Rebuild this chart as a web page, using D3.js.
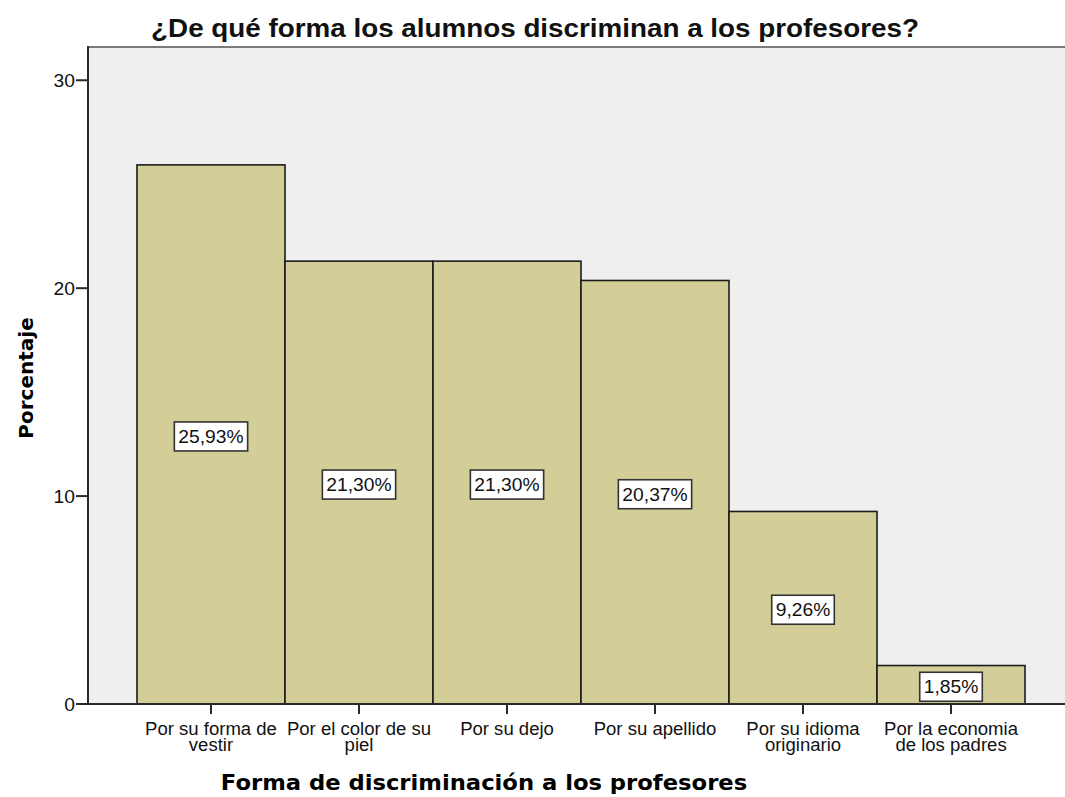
<!DOCTYPE html>
<html lang="es">
<head>
<meta charset="UTF-8">
<title>Forma de discriminación a los profesores</title>
<script src="https://d3js.org/d3.v7.min.js"></script>
<style>
  body { margin: 0; background: #fff; }
  svg { display: block; }
  .sans { font-family: "Liberation Sans", Arial, sans-serif; fill: #111; }
  .axis-title { font-family: "DejaVu Sans", Verdana, sans-serif; font-weight: bold; fill: #000; }
</style>
</head>
<body>
<svg width="1065" height="797"></svg>
<script>
// chart data
const categories = [
  ["Por su forma de", "vestir"],
  ["Por el color de su", "piel"],
  ["Por su dejo"],
  ["Por su apellido"],
  ["Por su idioma", "originario"],
  ["Por la economia", "de los padres"]
];
const percents = [25.93, 21.30, 21.30, 20.37, 9.26, 1.85];
const yTicks = [0, 10, 20, 30];

const title = "¿De qué forma los alumnos discriminan a los profesores?";
const xTitle = "Forma de discriminación a los profesores";
const yTitle = "Porcentaje";

const sx = 1.07; // the picture is slightly stretched sideways

const svg = d3.select("svg");
const plotL = 88, plotR = 1074, plotT = 47, plotB = 704;

const x = d3.scaleBand()
  .domain(d3.range(percents.length))
  .range([plotL, plotR])
  .paddingInner(0)
  .paddingOuter(0.331);

const y = d3.scaleLinear().domain([0, 31.6]).range([plotB, plotT]);

function fmt(v) { return v.toFixed(2).replace(".", ",") + "%"; }

// plot background
svg.append("rect")
  .attr("x", plotL).attr("y", plotT)
  .attr("width", plotR - plotL).attr("height", plotB - plotT)
  .attr("fill", "#efefef");

// top frame line
svg.append("line")
  .attr("x1", plotL).attr("x2", plotR)
  .attr("y1", plotT).attr("y2", plotT)
  .attr("stroke", "#7a7a7a").attr("stroke-width", 2);

// bars
svg.append("g").selectAll("rect")
  .data(percents)
  .enter().append("rect")
  .attr("x", (d, i) => x(i))
  .attr("y", d => y(d))
  .attr("width", x.bandwidth())
  .attr("height", d => y(0) - y(d))
  .attr("fill", "#d3ce97")
  .attr("stroke", "#1c1c1c")
  .attr("stroke-width", 1.6);

// axes lines
svg.append("line")
  .attr("x1", plotL).attr("x2", plotL)
  .attr("y1", plotT - 1).attr("y2", plotB)
  .attr("stroke", "#2a2a2a").attr("stroke-width", 2);
svg.append("line")
  .attr("x1", plotL).attr("x2", plotR)
  .attr("y1", plotB).attr("y2", plotB)
  .attr("stroke", "#2a2a2a").attr("stroke-width", 2);

// y ticks
const yt = svg.append("g").selectAll("g")
  .data(yTicks)
  .enter().append("g");
yt.append("line")
  .attr("x1", plotL - 12).attr("x2", plotL)
  .attr("y1", d => y(d)).attr("y2", d => y(d))
  .attr("stroke", "#2a2a2a").attr("stroke-width", 2);
yt.append("text")
  .attr("class", "sans")
  .attr("text-anchor", "end")
  .attr("font-size", 18)
  .attr("transform", d => `translate(${plotL - 13},${y(d) + 6.5}) scale(${sx},1)`)
  .text(d => d);

// x ticks and labels
const xt = svg.append("g").selectAll("g")
  .data(categories)
  .enter().append("g");
xt.append("line")
  .attr("x1", (d, i) => x(i) + x.bandwidth() / 2)
  .attr("x2", (d, i) => x(i) + x.bandwidth() / 2)
  .attr("y1", plotB).attr("y2", plotB + 10)
  .attr("stroke", "#2a2a2a").attr("stroke-width", 2);
xt.each(function(lines, i) {
  const t = d3.select(this).append("text")
    .attr("class", "sans")
    .attr("text-anchor", "middle")
    .attr("font-size", 17.5)
    .attr("transform", `translate(${x(i) + x.bandwidth() / 2},${plotB + 31}) scale(1.06,1)`);
  lines.forEach((ln, k) => {
    t.append("tspan").attr("x", 0).attr("y", k * 16).text(ln);
  });
});

// value labels
const lab = svg.append("g").selectAll("g")
  .data(percents)
  .enter().append("g")
  .attr("transform", (d, i) => `translate(${x(i) + x.bandwidth() / 2},${(y(d) + y(0)) / 2 + 2})`);
lab.each(function(d) {
  const g = d3.select(this);
  const r = g.append("rect");
  const t = g.append("text")
    .attr("class", "sans")
    .attr("text-anchor", "middle")
    .attr("font-size", 18)
    .attr("transform", `translate(0,6.5) scale(${sx},1)`)
    .text(fmt(d));
  const w = t.node().getComputedTextLength() * sx + 8;
  r.attr("x", -w / 2).attr("y", -14.5)
    .attr("width", w).attr("height", 29)
    .attr("fill", "#fff")
    .attr("stroke", "#333").attr("stroke-width", 1.6);
});

// titles
svg.append("text")
  .attr("class", "sans")
  .attr("font-weight", "bold")
  .attr("font-size", 26)
  .attr("text-anchor", "middle")
  .attr("fill", "#000")
  .attr("transform", `translate(535,37) scale(${sx},1)`)
  .text(title);

svg.append("text")
  .attr("class", "axis-title")
  .attr("font-size", 21)
  .attr("text-anchor", "middle")
  .attr("transform", "translate(484,790) scale(1.08,1)")
  .text(xTitle);

svg.append("text")
  .attr("class", "axis-title")
  .attr("font-size", 20)
  .attr("text-anchor", "middle")
  .attr("transform", "translate(33,378) rotate(-90)")
  .text(yTitle);
</script>
</body>
</html>
